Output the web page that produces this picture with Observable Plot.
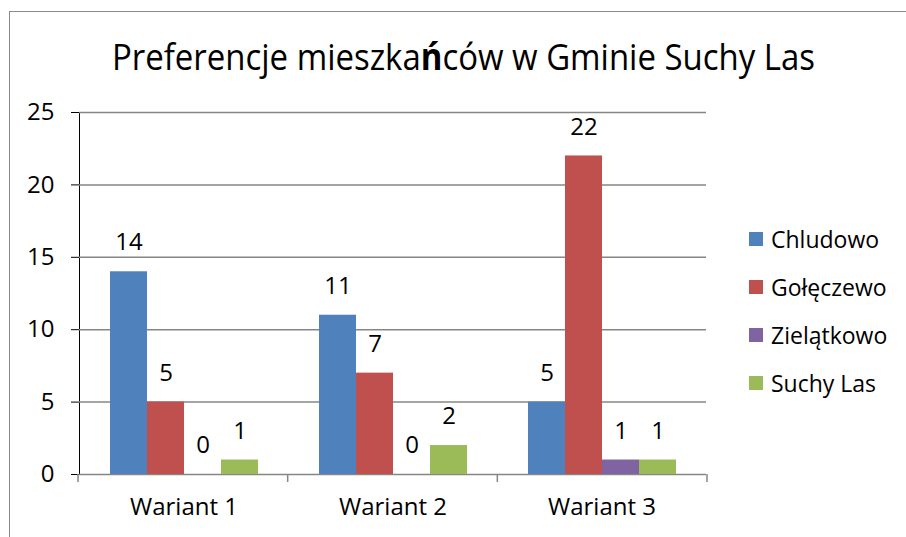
<!DOCTYPE html>
<html>
<head>
<meta charset="utf-8">
<script src="https://cdn.jsdelivr.net/npm/d3@7"></script>
<script src="https://cdn.jsdelivr.net/npm/@observablehq/plot@0.6"></script>
<style>
  html, body { margin: 0; padding: 0; background: #fff; }
  #wrap { position: relative; width: 906px; height: 537px; overflow: hidden; background: #fff; }
  #border { position: absolute; left: 9px; top: 11px; width: 1000px; height: 700px;
            border-left: 1.5px solid #8a8a8a; border-top: 1.5px solid #8a8a8a; z-index: 2; pointer-events: none; }
  #title { position: absolute; left: 0; top: 30px; white-space: nowrap; transform-origin: 0 0;
           font-family: "Open Sans", sans-serif; font-size: 37px; color: #000; z-index: 3; }
  #title b { font-weight: 700; }
  #legend { position: absolute; left: 749px; top: 215px; z-index: 3;
            font-family: "Open Sans", sans-serif; font-size: 23px; color: #000; }
  .li { display: flex; align-items: center; height: 48px; }
  .sw { width: 14px; height: 14px; margin-right: 8px; }
  #chart { position: absolute; left: 0; top: 0; z-index: 1; }
  #chart svg [aria-label="y-axis tick"], #chart svg [aria-label="y-axis domain"] { stroke: #868686; }
</style>
</head>
<body>
<div id="wrap">
  <div id="border"></div>
  <div id="title">Preferencje mieszka<b>ń</b>ców w Gminie Suchy Las</div>
  <div id="chart"></div>
  <div id="legend"></div>
</div>
<script>
const warianty = ["Wariant 1", "Wariant 2", "Wariant 3"];
const serie = ["Chludowo", "Gołęczewo", "Zielątkowo", "Suchy Las"];
const kolory = ["#4F81BD", "#C0504D", "#8064A2", "#9BBB59"];
const chludowo = [14, 11, 5];
const goleczewo = [5, 7, 22];
const zielatkowo = [0, 0, 1];
const suchyLas = [1, 2, 1];
const yTicks = [0, 5, 10, 15, 20, 25];

const values = [chludowo, goleczewo, zielatkowo, suchyLas];
const data = [];
warianty.forEach((w, i) => serie.forEach((s, j) => data.push({wariant: w, seria: s, value: values[j][i]})));

const W = 906, H = 537;
const plot = Plot.plot({
  width: W, height: H,
  marginLeft: 78, marginRight: 199, marginTop: 112, marginBottom: 63,
  style: { fontFamily: "'Open Sans', sans-serif", fontSize: "24px", background: "transparent", color: "#000" },
  facet: { data, x: "wariant" },
  fx: { domain: warianty, padding: 0, axis: "bottom", tickSize: 0, tickPadding: 23, label: null },
  x: { domain: serie, paddingInner: 0, paddingOuter: 0.76, axis: null },
  y: { domain: [0, 25], ticks: yTicks, tickSize: 8, tickPadding: 17, line: true, label: null },
  color: { domain: serie, range: kolory },
  marks: [
    Plot.ruleY(yTicks, { stroke: "#868686", strokeWidth: 1.5 }),
    Plot.barY(data, { x: "seria", y: "value", fill: "seria" }),
    Plot.text(data, { x: "seria", y: "value", text: d => String(d.value), dy: -29, fill: "#000" })
  ]
});
document.getElementById("chart").appendChild(plot);

// category boundary ticks using the plot's own scales
const fxS = plot.scale("fx"), yS = plot.scale("y");
const band = d3.scaleBand().domain(fxS.domain).range(fxS.range).padding(0);
const y0 = yS.apply(0);
const svg = d3.select(plot.tagName.toLowerCase() === "svg" ? plot : plot.querySelector("svg"));
const bounds = fxS.domain.map(d => band(d)).concat([band(fxS.domain[fxS.domain.length - 1]) + band.bandwidth()]);
svg.append("g").selectAll("line").data(bounds).join("line")
  .attr("x1", d => d).attr("x2", d => d).attr("y1", y0).attr("y2", y0 + 8)
  .attr("stroke", "#868686").attr("stroke-width", 1.5);

// title: fit to the reference span (x 112..815), condensed horizontally
const t = document.getElementById("title");
const tw = t.getBoundingClientRect().width;
const sx = 703 / tw;
t.style.transform = `translate(112px,0) scaleX(${sx})`;

// legend
const leg = d3.select("#legend");
serie.forEach((s, i) => {
  const row = leg.append("div").attr("class", "li");
  row.append("div").attr("class", "sw").style("background", kolory[i]);
  row.append("span").text(s);
});
</script>
</body>
</html>
